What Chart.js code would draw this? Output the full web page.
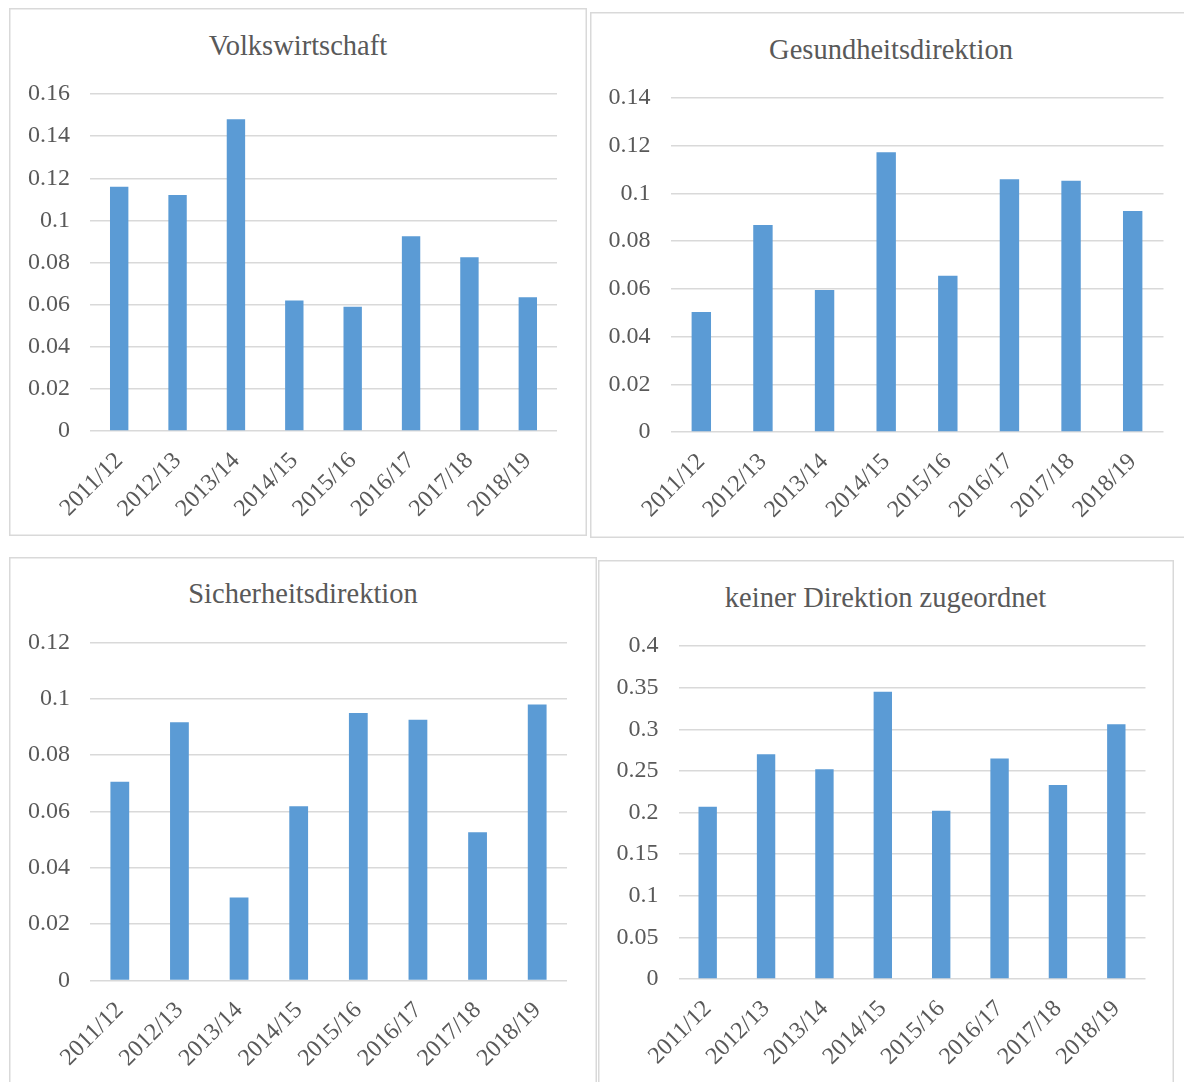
<!DOCTYPE html>
<html lang="de">
<head>
<meta charset="utf-8">
<title>Anteile nach Direktion</title>
<script src="https://cdn.jsdelivr.net/npm/chart.js@4.4.1/dist/chart.umd.min.js"></script>
<style>
    html, body {
        margin: 0;
        padding: 0;
        width: 1184px;
        height: 1082px;
        overflow: hidden;
        background: #fff;
    }
    .panel {
        position: absolute;
        box-shadow: inset 0 0 0 1.5px #d9d9d9;
    }
    .panel canvas {
        position: absolute;
        left: 0;
        top: 0;
    }
    .panel h2 {
        position: absolute;
        left: 0;
        right: 0;
        margin: 0;
        text-align: center;
        font: normal 28.5px "Liberation Serif", "Times New Roman", serif;
        line-height: 34px;
        color: #595959;
        white-space: nowrap;
    }
</style>
</head>
<body>

<div class="panel" id="p1"><h2>Volkswirtschaft</h2><canvas id="c1"></canvas></div>
<div class="panel" id="p2"><h2>Gesundheitsdirektion</h2><canvas id="c2"></canvas></div>
<div class="panel" id="p3"><h2>Sicherheitsdirektion</h2><canvas id="c3"></canvas></div>
<div class="panel" id="p4"><h2>keiner Direktion zugeordnet</h2><canvas id="c4"></canvas></div>

<script>
// Daten
const categories = ['2011/12', '2012/13', '2013/14', '2014/15', '2015/16', '2016/17', '2017/18', '2018/19'];

const volkswirtschaft = [0.116, 0.112, 0.148, 0.062, 0.059, 0.0925, 0.0825, 0.0635];
const gesundheit = [0.0503, 0.0868, 0.0595, 0.1173, 0.0655, 0.1059, 0.1053, 0.0926];
const sicherheit = [0.0706, 0.0917, 0.0295, 0.0619, 0.095, 0.0926, 0.0526, 0.098];
const keinerDirektion = [0.207, 0.27, 0.252, 0.345, 0.202, 0.265, 0.233, 0.306];

const ticksVolks = [0, 0.02, 0.04, 0.06, 0.08, 0.1, 0.12, 0.14, 0.16];
const ticksGesundheit = [0, 0.02, 0.04, 0.06, 0.08, 0.1, 0.12, 0.14];
const ticksSicherheit = [0, 0.02, 0.04, 0.06, 0.08, 0.1, 0.12];
const ticksKeiner = [0, 0.05, 0.1, 0.15, 0.2, 0.25, 0.3, 0.35, 0.4];

// Layout (Seitenkoordinaten): Rahmen und Plotbereich
const panels = [
    { id: 'p1', canvas: 'c1', values: volkswirtschaft, ticks: ticksVolks,
      box: [9, 8, 578, 528], area: [90, 557, 94, 431] },
    { id: 'p2', canvas: 'c2', values: gesundheit, ticks: ticksGesundheit,
      box: [589.5, 12, 603, 526], area: [670, 1163, 98, 432] },
    { id: 'p3', canvas: 'c3', values: sicherheit, ticks: ticksSicherheit,
      box: [9, 556.5, 588, 530], area: [90, 567, 642, 980] },
    { id: 'p4', canvas: 'c4', values: keinerDirektion, ticks: ticksKeiner,
      box: [597.5, 560, 576, 530], area: [678, 1145, 646, 979] }
];

const textColor = '#595959';
const gridColor = '#d9d9d9';
const barColor = '#5b9bd5';
const fontFamily = '"Liberation Serif", "Times New Roman", serif';

panels.forEach(p => {
    const [left, top, width, height] = p.box;
    const [aLeft, aRight, aTop, aBottom] = p.area;

    const el = document.getElementById(p.id);
    el.style.left = left + 'px';
    el.style.top = top + 'px';
    el.style.width = width + 'px';
    el.style.height = height + 'px';
    el.querySelector('h2').style.top = (37.5 - 17) + 'px';

    const canvas = document.getElementById(p.canvas);
    canvas.width = width;
    canvas.height = height;
    canvas.style.width = width + 'px';
    canvas.style.height = height + 'px';

    const yWidth = aLeft - left;
    const xHeight = top + height - aBottom;
    const maxTick = p.ticks[p.ticks.length - 1];

    new Chart(canvas, {
        type: 'bar',
        data: {
            labels: categories,
            datasets: [{
                data: p.values,
                backgroundColor: barColor,
                borderWidth: 0,
                barPercentage: 0.315,
                categoryPercentage: 1
            }]
        },
        options: {
            responsive: false,
            animation: false,
            devicePixelRatio: 1,
            layout: {
                padding: { left: 0, right: left + width - aRight, top: aTop - top, bottom: 0 }
            },
            plugins: {
                legend: { display: false },
                title: { display: false },
                tooltip: { enabled: false }
            },
            scales: {
                x: {
                    grid: { display: false, drawTicks: false },
                    border: { display: false },
                    ticks: {
                        autoSkip: false,
                        minRotation: 45,
                        maxRotation: 45,
                        padding: 16,
                        color: textColor,
                        font: { family: fontFamily, size: 24 }
                    },
                    afterFit: scale => { scale.height = xHeight; }
                },
                y: {
                    min: 0,
                    max: maxTick,
                    grid: { color: gridColor, lineWidth: 1.5, drawTicks: false },
                    border: { display: false },
                    afterBuildTicks: scale => {
                        scale.ticks = p.ticks.map(v => ({ value: v }));
                    },
                    ticks: {
                        padding: 20,
                        color: textColor,
                        font: { family: fontFamily, size: 24 },
                        callback: v => String(v)
                    },
                    afterFit: scale => { scale.width = yWidth; }
                }
            }
        }
    });
});
</script>
</body>
</html>
